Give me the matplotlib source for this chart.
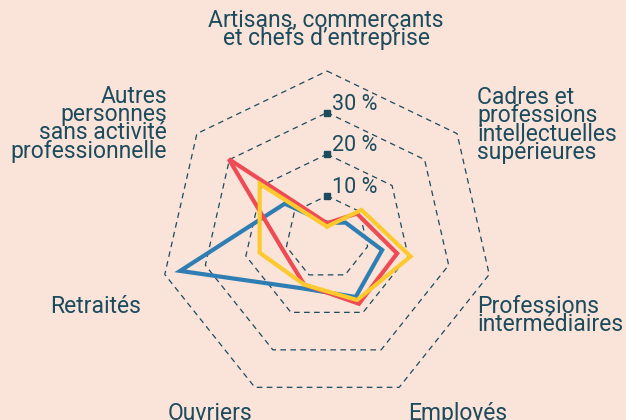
import numpy as np
import matplotlib
matplotlib.use('Agg')
import matplotlib.pyplot as plt

# categories clockwise from the top
categories = [
    "Artisans, commerçants\net chefs d\u2019entreprise",
    "Cadres et\nprofessions\nintellectuelles\nsupérieures",
    "Professions\nintermédiaires",
    "Employés",
    "Ouvriers",
    "Retraités",
    "Autres\npersonnes\nsans activité\nprofessionnelle",
]
blue = [3.5, 5.7, 13.6, 15.9, 13.6, 36.2, 13.0]
red = [3.4, 9.2, 17.3, 17.7, 12.6, 11.2, 30.2]
yellow = [2.6, 10.6, 20.6, 16.7, 12.6, 16.6, 20.7]
rings = [10, 20, 30, 40]
tick_labels = ["10 %", "20 %", "30 %"]

BG = "#fae3d9"
INK = "#1b4b5d"
COLORS = ["#2f7eb3", "#ee4b55", "#fdca2e"]

plt.rcParams['font.family'] = ['Roboto', 'DejaVu Sans']

n = len(categories)
ang = np.arange(n) * 2 * np.pi / n


def xy(vals):
    v = np.asarray(vals, dtype=float)
    x = v * np.sin(ang)
    y = v * np.cos(ang)
    return np.append(x, x[0]), np.append(y, y[0])


fig = plt.figure(figsize=(6.26, 4.2), dpi=100, facecolor=BG)
ax = fig.add_axes([0, 0, 1, 1])
ax.set_facecolor(BG)
px = 4.16  # pixels per percent
cx, cy = 327, 237.4
ax.set_xlim(-cx / px, (626 - cx) / px)
ax.set_ylim(-(420 - cy) / px, cy / px)
ax.axis('off')

for r in rings:
    gx, gy = xy([r] * n)
    ax.plot(gx, gy, color=INK, lw=0.9, dashes=(4.5, 3.5), zorder=1)

for vals, c in zip([blue, red, yellow], COLORS):
    lx, ly = xy(vals)
    ax.plot(lx, ly, color=c, lw=3, solid_joinstyle='miter', zorder=3)

# tick marks on the top axis
ax.plot([0] * 3, rings[:3], 's', color=INK, ms=4.2, zorder=4)
for r, lab in zip(rings[:3], tick_labels):
    ax.text(1.3, r + 2.0, lab, color=INK, fontsize=15.5, ha='left', va='center',
            zorder=5)

lab_pos = [
    (-0.2, 49.9, 'center'),
    (36.1, 27.0, 'left'),
    (36.1, -18.7, 'left'),
    (19.6, -42.3, 'left'),
    (-28.1, -42.3, 'center'),
    (-44.7, -16.7, 'right'),
    (-38.5, 27.3, 'right'),
]
for lab, (lxp, lyp, ha) in zip(categories, lab_pos):
    ax.text(lxp, lyp, lab, color=INK, fontsize=16.5, ha=ha, va='center',
            linespacing=0.74, multialignment=ha)

fig.savefig('out.png', dpi=100, facecolor=BG)
